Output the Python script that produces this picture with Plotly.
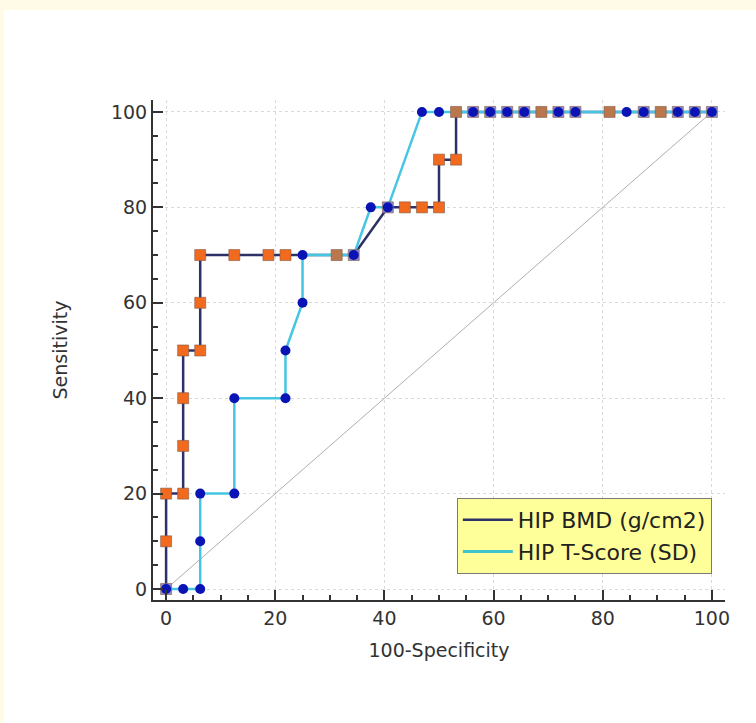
import plotly.graph_objects as go

# ---- data ----
bmd_x = [0, 0, 0, 3.125, 3.125, 3.125, 3.125, 6.25, 6.25, 6.25, 12.5, 18.75, 21.875,
         31.25, 34.375, 40.625, 43.75, 46.875, 50, 50, 53.125, 53.125,
         56.25, 59.375, 62.5, 65.625, 68.75, 71.875, 75, 81.25, 87.5, 90.625, 93.75, 96.875, 100]
bmd_y = [0, 10, 20, 20, 30, 40, 50, 50, 60, 70, 70, 70, 70,
         70, 70, 80, 80, 80, 80, 90, 90, 100,
         100, 100, 100, 100, 100, 100, 100, 100, 100, 100, 100, 100, 100]

ts_x = [0, 3.125, 6.25, 6.25, 6.25, 12.5, 12.5, 21.875, 21.875, 25, 25, 34.375, 37.5, 40.625,
        46.875, 50, 56.25, 59.375, 62.5, 65.625, 71.875, 75, 84.375, 87.5, 93.75, 96.875, 100]
ts_y = [0, 0, 0, 10, 20, 20, 40, 40, 50, 60, 70, 70, 80, 80,
        100, 100, 100, 100, 100, 100, 100, 100, 100, 100, 100, 100, 100]

diag = [0, 100]
ticks = [0, 20, 40, 60, 80, 100]
names = ["HIP BMD (g/cm2)", "HIP T-Score (SD)"]

NAVY = "#2E3168"
CYAN = "#45C6E2"
ORANGE = "#F26A1E"
BROWN = "#B9774E"
LAVENDER = "#8E8AC6"
BLUE = "#0A14B4"
FONT = "DejaVu Sans, Arial, sans-serif"

ts_pts = set(zip(ts_x, ts_y))


def on_ts_path(px, py):
    for i in range(len(ts_x) - 1):
        x0, y0, x1, y1 = ts_x[i], ts_y[i], ts_x[i + 1], ts_y[i + 1]
        cross = (x1 - x0) * (py - y0) - (y1 - y0) * (px - x0)
        if abs(cross) < 1e-9 and min(x0, x1) <= px <= max(x0, x1) and min(y0, y1) <= py <= max(y0, y1):
            return True
    return False


bmd_colors = []
for px, py in zip(bmd_x, bmd_y):
    if (px, py) in ts_pts:
        bmd_colors.append(LAVENDER)
    elif on_ts_path(px, py):
        bmd_colors.append(BROWN)
    else:
        bmd_colors.append(ORANGE)

fig = go.Figure()

# diagonal reference
fig.add_trace(go.Scatter(x=diag, y=diag, mode="lines",
                         line=dict(color="#B5ADA6", width=1), showlegend=False, hoverinfo="skip"))

fig.add_trace(go.Scatter(x=bmd_x, y=bmd_y, mode="lines", line=dict(color=NAVY, width=2.5),
                         showlegend=False))
fig.add_trace(go.Scatter(x=ts_x, y=ts_y, mode="lines", line=dict(color=CYAN, width=2.5),
                         showlegend=False))
fig.add_trace(go.Scatter(x=bmd_x, y=bmd_y, mode="markers",
                         marker=dict(symbol="square", size=11, color=bmd_colors,
                                     line=dict(color="rgba(130,90,70,0.6)", width=1)),
                         showlegend=False))
fig.add_trace(go.Scatter(x=ts_x, y=ts_y, mode="markers",
                         marker=dict(symbol="circle", size=10, color=BLUE,
                                     line=dict(width=0)),
                         showlegend=False))

# legend entries (lines only)
fig.add_trace(go.Scatter(x=[None], y=[None], mode="lines", line=dict(color=NAVY, width=2.5), name=names[0]))
fig.add_trace(go.Scatter(x=[None], y=[None], mode="lines", line=dict(color="#3FC3CC", width=3), name=names[1]))

axis_common = dict(
    showline=True, linecolor="#333333", linewidth=2, mirror=False,
    ticks="inside", ticklen=10, tickwidth=2, tickcolor="#333333",
    tickvals=ticks, ticktext=[str(t) for t in ticks],
    tickfont=dict(family=FONT, size=19, color="#333333"),
    showgrid=True, gridcolor="#DADADA", gridwidth=1, griddash="dot",
    zeroline=False,
    minor=dict(dtick=5, tick0=0, ticks="inside", ticklen=5, tickwidth=1.5,
               tickcolor="#333333", showgrid=False),
)

fig.update_layout(
    width=756, height=723,
    margin=dict(l=153, r=31, t=100, b=123),
    paper_bgcolor="#FFFBE6",
    plot_bgcolor="white",
    font=dict(family=FONT, color="#333333"),
    xaxis=dict(range=[-2.4, 102.4],
               title=dict(text="100-Specificity", font=dict(family=FONT, size=19, color="#333333"),
                          standoff=16),
               **axis_common),
    yaxis=dict(range=[-2.3, 102.5],
               title=dict(text="Sensitivity", font=dict(family=FONT, size=19, color="#333333"),
                          standoff=38),
               **axis_common),
    legend=dict(x=0.977, y=0.052, xanchor="right", yanchor="bottom",
                bgcolor="#FFFF99", bordercolor="#7A7A7A", borderwidth=1,
                font=dict(family=FONT, size=22, color="#222222"),
                itemwidth=50, tracegroupgap=0),
    shapes=[dict(type="rect", xref="paper", yref="paper",
                 x0=-0.2605, x1=1.1, y0=-0.3, y1=1.18,
                 fillcolor="white", line=dict(width=0), layer="below")],
    showlegend=True,
)

fig.write_html("out.html", config={"displayModeBar": False},
               post_script="document.body.style.margin='0px';")
